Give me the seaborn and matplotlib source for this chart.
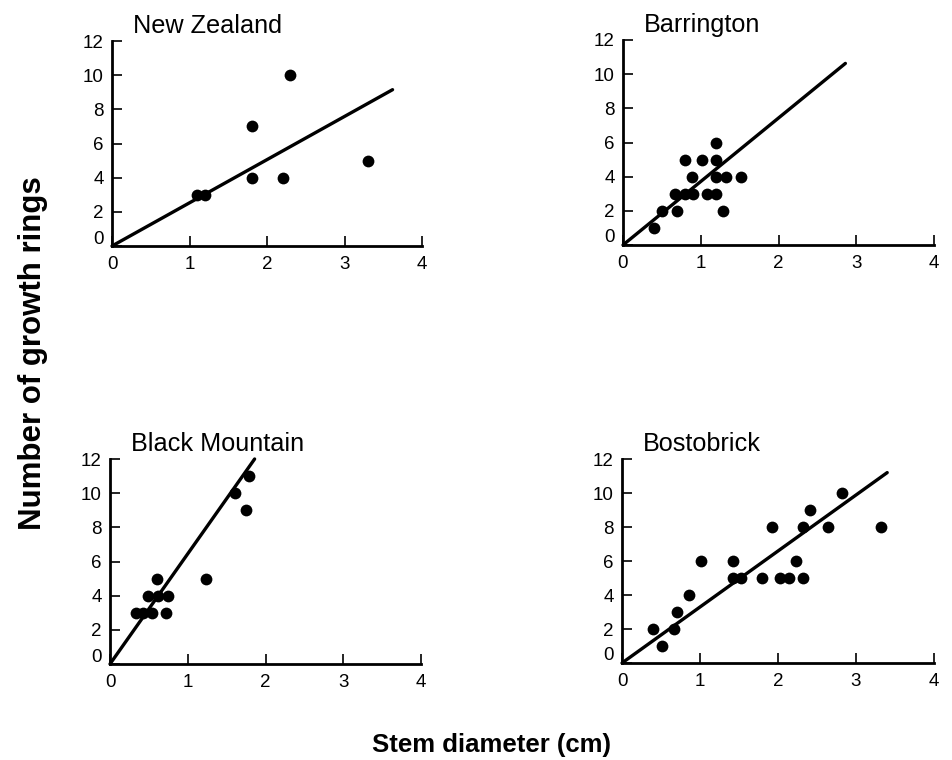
import matplotlib
matplotlib.use("Agg")
import matplotlib.pyplot as plt
from matplotlib.transforms import ScaledTranslation
import seaborn as sns
import pandas as pd

# ---- data ----
sites = ["New Zealand", "Barrington", "Black Mountain", "Bostobrick"]

nz_x = [1.1, 1.2, 1.8, 1.8, 2.2, 2.3, 3.3]
nz_y = [3, 3, 7, 4, 4, 10, 5]

bar_x = [0.4, 0.5, 0.7, 1.28, 0.67, 0.8, 0.9, 1.08, 1.2, 0.89, 1.19, 1.32, 1.52, 0.8, 1.01, 1.2, 1.2]
bar_y = [1, 2, 2, 2, 3, 3, 3, 3, 3, 4, 4, 4, 4, 5, 5, 5, 6]

bm_x = [0.33, 0.43, 0.54, 0.72, 0.49, 0.62, 0.74, 0.61, 1.24, 1.75, 1.61, 1.79]
bm_y = [3, 3, 3, 3, 4, 4, 4, 5, 5, 9, 10, 11]

bos_x = [0.40, 0.51, 0.67, 0.70, 0.86, 1.01, 1.42, 1.42, 1.53, 1.80, 1.92, 2.02,
         2.14, 2.23, 2.32, 2.32, 2.41, 2.64, 2.82, 3.32]
bos_y = [2, 1, 2, 3, 4, 6, 6, 5, 5, 5, 8, 5, 5, 6, 5, 8, 9, 8, 10, 8]

# fitted lines through the origin: end point of each line
line_end_x = [3.62, 2.86, 1.86, 3.40]
line_end_y = [9.15, 10.63, 12.0, 11.2]

x_ticks = [0, 1, 2, 3, 4]
y_ticks = [0, 2, 4, 6, 8, 10, 12]
x_label = "Stem diameter (cm)"
y_label = "Number of growth rings"

points = [(nz_x, nz_y), (bar_x, bar_y), (bm_x, bm_y), (bos_x, bos_y)]

# ---- style ----
sns.set_style("ticks")
plt.rcParams["font.family"] = ["Liberation Sans", "DejaVu Sans"]
plt.rcParams["text.color"] = "black"

W, H = 952, 760
fig = plt.figure(figsize=(W / 100, H / 100), dpi=100)

# axes boxes in pixels: left, right, top (y=12), bottom (y=0)
boxes = [(112, 422, 41, 246), (623, 934, 40, 245),
         (110, 421, 459, 664), (622, 934, 459, 663)]

for i, (name, (xs, ys)) in enumerate(zip(sites, points)):
    l, r, t, b = boxes[i]
    ax = fig.add_axes([l / W, 1 - b / H, (r - l) / W, (b - t) / H])
    df = pd.DataFrame({"x": xs, "y": ys})
    sns.scatterplot(data=df, x="x", y="y", ax=ax, color="black", s=72,
                    edgecolor="black", linewidth=0, zorder=3, clip_on=False)
    ldf = pd.DataFrame({"x": [0, line_end_x[i]], "y": [0, line_end_y[i]]})
    sns.lineplot(data=ldf, x="x", y="y", ax=ax, color="black", lw=2.4,
                 zorder=2, clip_on=False)
    ax.set_xlim(0, 4)
    ax.set_ylim(0, 12)
    ax.set_xticks(x_ticks)
    ax.set_yticks(y_ticks)
    ax.set_xticklabels([str(v) for v in x_ticks])
    ax.set_yticklabels([str(v) for v in y_ticks])
    ax.set_xlabel("")
    ax.set_ylabel("")
    sns.despine(ax=ax)
    for s in ("left", "bottom"):
        ax.spines[s].set_linewidth(2.0)
        ax.spines[s].set_color("black")
    ax.tick_params(direction="in", length=7, width=1.2, colors="black",
                   labelsize=13.5, pad=7)
    ax.tick_params(axis="y", pad=6)
    # lift the y "0" label above the x "0" label
    lab = ax.yaxis.get_major_ticks()[0].label1
    lab.set_transform(lab.get_transform() +
                      ScaledTranslation(0, 9 / 100, fig.dpi_scale_trans))
    ax.text(0.067, 1.04, name, transform=ax.transAxes, fontsize=18.2,
            ha="left", va="baseline", color="black")

fig.text(491 / W, 1 - 745 / H, x_label, ha="center", va="center",
         fontsize=18.5, fontweight="bold", color="black")
fig.text(33 / W, 1 - 353 / H, y_label, ha="center", va="center",
         rotation=90, fontsize=22.5, fontweight="bold", color="black")

fig.savefig("out.png", dpi=100, facecolor="white")
